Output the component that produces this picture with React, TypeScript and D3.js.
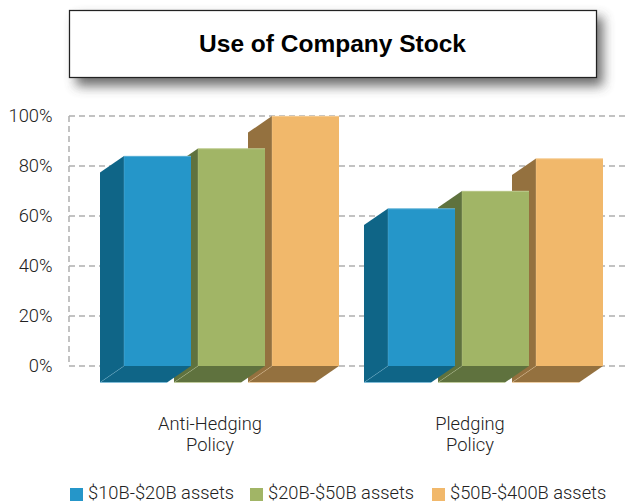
import React from 'react';
import * as d3 from 'd3';

const categories = [['Anti-Hedging', 'Policy'], ['Pledging', 'Policy']];
const groupKeys = ['Anti-Hedging Policy', 'Pledging Policy'];
const seriesNames = ['$10B-$20B assets', '$20B-$50B assets', '$50B-$400B assets'];
const smallBanks = [84, 63];
const midBanks = [87, 70];
const largeBanks = [100, 83];
const tickValues = [0, 20, 40, 60, 80, 100];

const frontColors = ['#2596c9', '#a1b566', '#f1b86b'];
const sideColors = ['#0f6587', '#5f723e', '#94713f'];
const edgeColors = ['#7fc0de', '#c5d19c', '#f8d6a6'];

const width = 629;
const height = 504;
const depthX = -24;
const depthY = 16.5;
const squeeze = 0.975;

// condensed look, no narrow face is installed
const Label = ({ x, y, anchor = 'start', children }: any) => (
  <text
    transform={`translate(${x},${y}) scale(${squeeze},1)`}
    textAnchor={anchor}
    fontFamily='Roboto, "Liberation Sans", sans-serif'
    fontWeight={300}
    fontSize={18.8}
    fill="#222"
  >
    {children}
  </text>
);

const App = () => {
  const series = [smallBanks, midBanks, largeBanks];

  const y = d3.scaleLinear().domain([0, 100]).range([366, 116]);
  const x0 = d3.scaleBand().domain(groupKeys).range([124, 603]).paddingInner(0.1856);
  const x1 = d3.scaleBand().domain(seriesNames).range([0, x0.bandwidth()]).paddingInner(0.0946);
  const path = d3.line();

  const grid = tickValues.map((t) => (
    <line key={t} x1={69} x2={width} y1={y(t)} y2={y(t)} stroke="#aeaeae" strokeWidth={1.5} strokeDasharray="6 4" />
  ));

  // right to left so the nearer bars cover the sides of the next ones
  const bars = groupKeys.map((g, gi) => (
    <g key={g}>
      {seriesNames.map((s, si) => {
        const left = x0(g)! + x1(s)!;
        const right = left + x1.bandwidth();
        const top = y(series[si][gi]);
        const base = y(0);
        const side = path([[left, top], [left + depthX, top + depthY], [left + depthX, base + depthY], [left, base]])!;
        const floor = path([[left, base], [right, base], [right + depthX, base + depthY], [left + depthX, base + depthY]])!;
        return (
          <g key={s}>
            <path d={side + 'Z'} fill={sideColors[si]} />
            <path d={floor + 'Z'} fill={sideColors[si]} />
            <rect x={left} y={top} width={x1.bandwidth()} height={base - top} fill={frontColors[si]} />
            <line x1={left} x2={right} y1={top + 0.25} y2={top + 0.25} stroke={edgeColors[si]} strokeWidth={0.75} />
            <line x1={left} x2={left} y1={top} y2={base} stroke={edgeColors[si]} strokeWidth={0.5} opacity={0.6} />
            <line x1={left} x2={left + depthX} y1={base} y2={base + depthY} stroke={edgeColors[si]} strokeWidth={0.5} opacity={0.6} />
            <line x1={left + depthX} x2={right + depthX} y1={base + depthY} y2={base + depthY} stroke={edgeColors[si]} strokeWidth={0.75} />
          </g>
        );
      }).reverse()}
    </g>
  ));

  const legendX = [70, 250, 432];
  const labelX = [210, 470];

  return (
    <svg width={width} height={height} style={{ position: 'absolute', left: 0, top: 0, background: '#fff' }}>
      <defs>
        <filter id="boxShadow" x="-5%" y="-30%" width="112%" height="170%">
          <feGaussianBlur stdDeviation="6" />
        </filter>
      </defs>

      <rect x={76} y={17} width={527} height={69} fill="#444" opacity={0.78} filter="url(#boxShadow)" />
      <rect x={69.5} y={10.5} width={527} height={67} fill="#fff" stroke="#222" strokeWidth={1.25} />
      <text x={332.5} y={52} textAnchor="middle" fontFamily='"Liberation Sans", Arial, sans-serif' fontWeight="bold" fontSize={24.5} fill="#000">
        Use of Company Stock
      </text>

      <line x1={69} x2={69} y1={y(100)} y2={y(0)} stroke="#aeaeae" strokeWidth={1.5} strokeDasharray="6 4" />
      {grid}
      {tickValues.map((t) => (
        <Label key={t} x={52.5} y={y(t) + 5.5} anchor="end">{t}%</Label>
      ))}

      {bars}

      {groupKeys.map((g, gi) => (
        <Label key={g} x={labelX[gi]} y={430} anchor="middle">
          {categories[gi].map((line, li) => (
            <tspan key={line} x={0} dy={li === 0 ? 0 : 21.5}>{line}</tspan>
          ))}
        </Label>
      ))}

      {seriesNames.map((s, si) => (
        <g key={s}>
          <rect x={legendX[si]} y={488} width={13} height={13} fill={frontColors[si]} />
          <Label x={legendX[si] + 18} y={499.4}>{s}</Label>
        </g>
      ))}
    </svg>
  );
};

export default App;
